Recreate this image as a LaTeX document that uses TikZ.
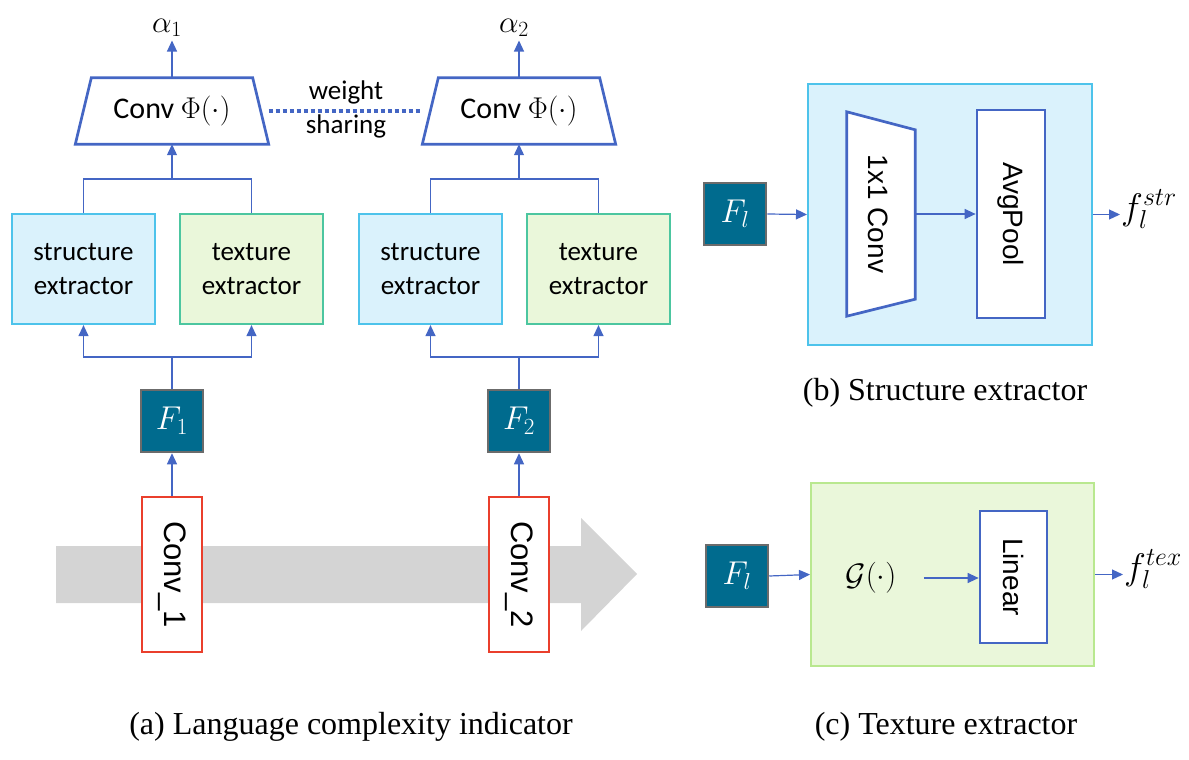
\RequirePackage{fix-cm}
\documentclass[tikz,border=0pt]{standalone}
\usepackage{fontspec}
\setmainfont{Liberation Serif}
\newfontfamily\calibri{Carlito}
\newfontfamily\arial{Liberation Sans}
\usetikzlibrary{positioning,calc,arrows.meta}

\definecolor{lineblue}{HTML}{4466C4}
\definecolor{featteal}{HTML}{006B8E}
\definecolor{featgray}{HTML}{6B6B6B}
\definecolor{strfill}{HTML}{DAF2FC}
\definecolor{strdraw}{HTML}{4DC3EB}
\definecolor{texfill}{HTML}{EAF7DA}
\definecolor{texdraw}{HTML}{4CC6A0}
\definecolor{texdrawlight}{HTML}{B9E88F}
\definecolor{convred}{HTML}{EA3F2C}
\definecolor{backbonegray}{HTML}{D4D4D4}

\tikzset{
  wire/.style={draw=lineblue, line width=1.2pt},
  arr/.style={wire, -{Triangle[length=11pt,width=10pt]}},
  featbox/.style={draw=featgray, line width=2.5pt, fill=featteal, minimum width=62pt, minimum height=62pt, inner sep=0pt, text=white, font=\fontsize{33}{36}\selectfont},
  strbox/.style={draw=strdraw, fill=strfill, line width=2.2pt, minimum width=143pt, minimum height=110pt, align=center, font=\calibri\fontsize{27}{34}\selectfont},
  texbox/.style={strbox, draw=texdraw, fill=texfill},
  convbox/.style={draw=convred, line width=2.2pt, fill=white, minimum width=60pt, minimum height=155pt},
  convlabel/.style={rotate=-90, font=\arial\fontsize{31}{34}\selectfont},
  layerbox/.style={draw=lineblue, line width=2.7pt, fill=white},
  vlabel/.style={rotate=-90, font=\arial\fontsize{28}{32}\selectfont},
  trap/.style={draw=lineblue, line width=2.7pt, fill=white, line join=miter},
  caption/.style={font=\fontsize{32}{36}\selectfont},
  mathlabel/.style={font=\fontsize{31}{34}\selectfont},
  outlabel/.style={font=\fontsize{37}{40}\selectfont, anchor=west, inner sep=1pt},
}

\begin{document}
\begin{tikzpicture}[x=1pt, y=-1pt]
    \useasboundingbox (0,0) rectangle (1189,760);

    % (a) Backbone arrow
    \fill[backbonegray] (56,546) -- (581,546) -- (581,518) -- (637,574) -- (581,631) -- (581,603) -- (56,603) -- cycle;

    % Backbone layers
    \node[convbox] (conv1) at (172,574.5) {};
    \node[convlabel] at (conv1) {Conv\_1};
    \node[convbox] (conv2) at (519,574.5) {};
    \node[convlabel] at (conv2) {Conv\_2};

    % Features
    \node[featbox] (F1) at (172,421) {$F_1$};
    \node[featbox] (F2) at (519,421) {$F_2$};
    \draw[arr] (conv1.north) -- (F1.south);
    \draw[arr] (conv2.north) -- (F2.south);

    % Extractors
    \node[strbox] (s1) at (83.5,269) {structure\\extractor};
    \node[texbox] (t1) at (251.5,269) {texture\\extractor};
    \node[strbox] (s2) at (430.5,269) {structure\\extractor};
    \node[texbox] (t2) at (598.5,269) {texture\\extractor};

    % Split below the extractors
    \coordinate (b1) at (172,357);
    \coordinate (b2) at (519,357);
    \draw[wire] (F1.north) -- (b1);
    \draw[arr] (b1) -| (s1.south);
    \draw[arr] (b1) -| (t1.south);
    \draw[wire] (F2.north) -- (b2);
    \draw[arr] (b2) -| (s2.south);
    \draw[arr] (b2) -| (t2.south);

    % Conv Phi trapezoids
    \node[minimum width=193pt, minimum height=66pt] (phi1) at (172,111) {};
    \draw[trap] (phi1.south west) -- ($(phi1.north west)+(16,0)$) -- ($(phi1.north east)+(-16,0)$) -- (phi1.south east) -- cycle;
    \node[font=\calibri\fontsize{30}{34}\selectfont] at (phi1) {Conv $\Phi(\cdot)$};
    \node[minimum width=193pt, minimum height=66pt] (phi2) at (519,111) {};
    \draw[trap] (phi2.south west) -- ($(phi2.north west)+(16,0)$) -- ($(phi2.north east)+(-16,0)$) -- (phi2.south east) -- cycle;
    \node[font=\calibri\fontsize{30}{34}\selectfont] at (phi2) {Conv $\Phi(\cdot)$};

    % Merge above the extractors
    \coordinate (m1) at (172,179);
    \coordinate (m2) at (519,179);
    \draw[wire] (s1.north) |- (m1) -| (t1.north);
    \draw[arr] (m1) -- (phi1.south);
    \draw[wire] (s2.north) |- (m2) -| (t2.north);
    \draw[arr] (m2) -- (phi2.south);

    % Outputs
    \node[mathlabel] (a1) at (167,28) {$\alpha_1$};
    \node[mathlabel] (a2) at (514,28) {$\alpha_2$};
    \draw[arr] (phi1.north) -- (phi1.north |- a1.south);
    \draw[arr] (phi2.north) -- (phi2.north |- a2.south);

    % Weight sharing
    \draw[lineblue, line width=3.5pt, dash pattern=on 4pt off 3pt] (phi1.east) -- (phi2.west);
    \node[font=\calibri\fontsize{27}{34}\selectfont, align=center] (share) at (346,109) {weight\\sharing};

    \node[caption] (capa) at (351,727) {(a) Language complexity indicator};

    % (b) Structure extractor
    \node[draw=strdraw, fill=strfill, line width=2pt, minimum width=284pt, minimum height=261pt] (strx) at (950,214.5) {};
    \node[featbox] (Fl1) at (735,214) {$F_l$};
    \node[minimum width=68pt, minimum height=204pt] (c11) at (881,214) {};
    \draw[trap] (c11.north west) -- ($(c11.north east)+(0,18)$) -- ($(c11.south east)+(0,-17)$) -- (c11.south west) -- cycle;
    \node[vlabel] at (878,214) {1x1 Conv};
    \node[layerbox, minimum width=68pt, minimum height=208pt] (avg) at (1011,214) {};
    \node[vlabel] at (avg) {AvgPool};
    \node[outlabel] (fstr) at (1120,209) {$f_l^{str}$};
    \draw[arr] (Fl1.east) -- (strx.west);
    \draw[arr] (c11.east) -- (avg.west);
    \draw[arr] (strx.east) -- (fstr.west |- strx.east);

    \node[caption] (capb) at (945,393) {(b) Structure extractor};

    % (c) Texture extractor
    \node[draw=texdrawlight, fill=texfill, line width=2pt, minimum width=283pt, minimum height=183pt] (texx) at (952.5,574.5) {};
    \node[featbox] (Fl2) at (737,576) {$F_l$};
    \node[mathlabel] (gram) at (871,578) {$\mathcal{G}(\cdot)$};
    \node[layerbox, minimum width=67pt, minimum height=132pt] (lin) at (1013.5,577) {};
    \node[vlabel] at (lin) {Linear};
    \node[outlabel] (ftex) at (1123,569) {$f_l^{tex}$};
    \draw[arr] (Fl2.east) -- (texx.west);
    \draw[arr] ($(gram.east)+(24,0)$) -- (gram.east -| lin.west);
    \draw[arr] (texx.east) -- (ftex.west |- texx.east);

    \node[caption] (capc) at (946,727) {(c) Texture extractor};
\end{tikzpicture}
\end{document}
